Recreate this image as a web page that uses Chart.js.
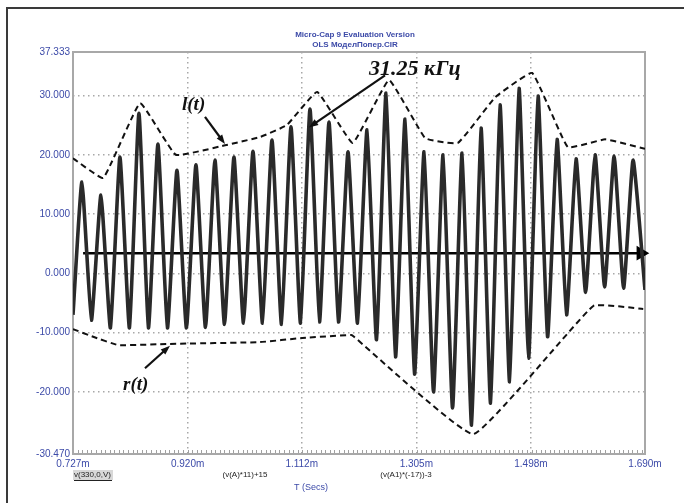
<!DOCTYPE html>
<html lang="ru">
<head>
<meta charset="UTF-8">
<title>Micro-Cap 9 - OLS</title>
<script src="https://cdn.jsdelivr.net/npm/chart.js"></script>
<style>
  body { margin: 0; background: #fff; }
  canvas { display: block; }
</style>
</head>
<body>
<canvas id="myChart" width="684" height="503"></canvas>
<script>
// axis ticks (ms on x, value on y)
const xTicks = [0.727, 0.920, 1.112, 1.305, 1.498, 1.690];
const yTicks = [-30.470, -20, -10, 0, 10, 20, 30, 37.333];

// signal: start / end samples, peaks and troughs
const tEdge = [0.727, 1.690];
const vEdge = [-7.0, -2.8];
const tPeak = [0.742, 0.774, 0.806, 0.838, 0.870, 0.902, 0.934, 0.966, 0.998, 1.030,
               1.062, 1.094, 1.126, 1.158, 1.190, 1.222, 1.254, 1.286, 1.318, 1.350,
               1.382, 1.414, 1.446, 1.478, 1.510, 1.542, 1.574, 1.606, 1.638, 1.670];
const vPeak = [15.4, 13.2, 19.6, 27.0, 21.8, 17.4, 18.3, 19.1, 19.6, 20.6,
               22.5, 24.7, 27.7, 25.5, 20.5, 24.2, 30.4, 26.0, 20.5, 20.0,
               20.3, 24.5, 28.4, 31.2, 29.9, 22.6, 19.3, 20.0, 19.8, 19.1];
const tTrough = [0.758, 0.790, 0.822, 0.854, 0.886, 0.918, 0.950, 0.982, 1.014, 1.046,
                 1.078, 1.110, 1.142, 1.174, 1.206, 1.238, 1.270, 1.302, 1.334, 1.366,
                 1.398, 1.430, 1.462, 1.494, 1.526, 1.558, 1.590, 1.622, 1.654];
const vTrough = [-7.9, -9.2, -9.2, -9.2, -9.2, -9.2, -9.1, -8.6, -8.4, -8.4,
                 -8.6, -8.4, -8.2, -8.2, -8.4, -11.2, -14.1, -17.0, -20.0, -22.7,
                 -25.6, -21.9, -18.3, -14.3, -10.7, -7.0, -3.2, -2.3, -2.5];

// upper envelope l(t)
const tUpper = [0.727, 0.778, 0.840, 0.900, 0.983, 1.042, 1.087, 1.138, 1.198,
                1.259, 1.320, 1.375, 1.438, 1.500, 1.560, 1.623, 1.690];
const vUpper = [19.4, 16.1, 28.7, 20.0, 21.6, 23.0, 25.0, 30.6, 22.0,
                32.6, 22.8, 22.0, 29.7, 33.8, 21.3, 22.6, 21.0];

// lower envelope r(t)
const tLower = [0.727, 0.761, 0.803, 0.890, 1.042, 1.113, 1.195, 1.199, 1.401, 1.603, 1.687];
const vLower = [-9.4, -10.7, -12.1, -11.9, -11.6, -10.9, -10.4, -10.6, -27.1, -5.5, -6.0];

// horizontal time arrow
const tArrow = [0.744, 1.683];
const vArrow = [3.4, 3.4];

// text annotations: label, x, y (data units) and arrow from/to
const notes = [
  { text: '31.25 кГц', x: 1.2253, y: 34.4, from: [1.2523, 33.4], to: [1.124, 24.6], size: 22 },
  { text: 'l(t)', x: 0.9105, y: 28.4, from: [0.9492, 26.4], to: [0.9829, 21.8], size: 19 },
  { text: 'r(t)', x: 0.8112, y: -18.8, from: [0.8482, -16.0], to: [0.8903, -12.2], size: 19 }
];

const blue = '#3c4aa8';
const gridColor = '#a8a8a8';

function pts(ts, vs) { return ts.map((t, i) => ({ x: t, y: vs[i] })); }

const signal = pts(tEdge, vEdge).concat(pts(tPeak, vPeak), pts(tTrough, vTrough))
  .sort((a, b) => a.x - b.x);

const decorPlugin = {
  id: 'decor',
  beforeDraw(chart) {
    const ctx = chart.ctx;
    ctx.save();
    ctx.fillStyle = '#fff';
    ctx.fillRect(0, 0, chart.width, chart.height);
    // outer frame (top and left visible)
    ctx.strokeStyle = '#3a3a3a';
    ctx.lineWidth = 2;
    ctx.beginPath();
    ctx.moveTo(7, chart.height);
    ctx.lineTo(7, 8);
    ctx.lineTo(chart.width, 8);
    ctx.stroke();
    // titles
    const a = chart.chartArea;
    const cx = (a.left + a.right) / 2 - 4;
    ctx.fillStyle = blue;
    ctx.textAlign = 'center';
    ctx.textBaseline = 'middle';
    ctx.font = 'bold 8px "Liberation Sans", Arial, sans-serif';
    ctx.fillText('Micro-Cap 9 Evaluation Version', cx, 35);
    ctx.fillText('OLS МоделПопер.CIR', cx, 45);
    ctx.restore();
  },
  beforeDatasetsDraw(chart) {
    const ctx = chart.ctx;
    const a = chart.chartArea;
    const xs = chart.scales.x;
    ctx.save();
    // minor ticks along the bottom
    ctx.strokeStyle = '#a0a0a0';
    ctx.lineWidth = 1;
    const step = (xTicks[1] - xTicks[0]) / 25;
    for (let t = xTicks[0]; t <= xTicks[xTicks.length - 1] + 1e-9; t += step) {
      const px = Math.round(xs.getPixelForValue(t)) + 0.5;
      ctx.beginPath();
      ctx.moveTo(px, a.bottom);
      ctx.lineTo(px, a.bottom - 4);
      ctx.stroke();
    }
    // plot border
    ctx.strokeStyle = '#a8a8a8';
    ctx.lineWidth = 2;
    ctx.strokeRect(a.left, a.top, a.right - a.left, a.bottom - a.top);
    ctx.restore();
  },
  afterDraw(chart) {
    const ctx = chart.ctx;
    const xs = chart.scales.x, ys = chart.scales.y;
    ctx.save();
    // bottom labels
    ctx.textBaseline = 'middle';
    ctx.font = '8px "Liberation Sans", Arial, sans-serif';
    ctx.fillStyle = '#d8d8d8';
    ctx.fillRect(73, 470, 40, 10);
    ctx.fillStyle = '#222';
    ctx.textAlign = 'left';
    ctx.fillText('v(330,0,V)', 74, 475);
    ctx.strokeStyle = '#222';
    ctx.lineWidth = 1;
    ctx.beginPath(); ctx.moveTo(74, 480.5); ctx.lineTo(112, 480.5); ctx.stroke();
    ctx.textAlign = 'center';
    ctx.fillText('(v(A)*11)+15', 245, 475);
    ctx.fillText('(v(A1)*(-17))-3', 406, 475);
    ctx.fillStyle = blue;
    ctx.font = '9px "Liberation Sans", Arial, sans-serif';
    ctx.fillText('T (Secs)', 311, 488);

    // annotations
    notes.forEach(n => {
      ctx.fillStyle = '#111';
      ctx.strokeStyle = '#111';
      ctx.font = 'bold italic ' + n.size + 'px "Liberation Serif", "DejaVu Serif", serif';
      ctx.textAlign = 'left';
      ctx.textBaseline = 'middle';
      ctx.fillText(n.text, xs.getPixelForValue(n.x), ys.getPixelForValue(n.y));
      const x1 = xs.getPixelForValue(n.from[0]), y1 = ys.getPixelForValue(n.from[1]);
      const x2 = xs.getPixelForValue(n.to[0]), y2 = ys.getPixelForValue(n.to[1]);
      const ang = Math.atan2(y2 - y1, x2 - x1);
      ctx.lineWidth = 2.2;
      ctx.beginPath();
      ctx.moveTo(x1, y1);
      ctx.lineTo(x2 - 6 * Math.cos(ang), y2 - 6 * Math.sin(ang));
      ctx.stroke();
      ctx.beginPath();
      ctx.moveTo(x2, y2);
      ctx.lineTo(x2 - 10 * Math.cos(ang - 0.35), y2 - 10 * Math.sin(ang - 0.35));
      ctx.lineTo(x2 - 10 * Math.cos(ang + 0.35), y2 - 10 * Math.sin(ang + 0.35));
      ctx.closePath();
      ctx.fill();
    });
    ctx.restore();
  }
};

function edgeColor(ticks) {
  return ctx => (ctx.index === 0 || ctx.index === ticks.length - 1) ? 'rgba(0,0,0,0)' : gridColor;
}

const config = {
  type: 'line',
  data: {
    datasets: [
      {
        data: pts(tUpper, vUpper),
        borderColor: '#111', borderWidth: 2, borderDash: [6, 4],
        pointRadius: 0, tension: 0.1, fill: false
      },
      {
        data: pts(tLower, vLower),
        borderColor: '#111', borderWidth: 2, borderDash: [6, 4],
        pointRadius: 0, tension: 0.1, fill: false
      },
      {
        data: signal,
        borderColor: '#2a2a2a', borderWidth: 3.6,
        pointRadius: 0, tension: 0.15, fill: false
      },
      {
        data: signal,
        borderColor: '#a6a6a6', borderWidth: 2,
        pointRadius: 0, tension: 0.15, fill: false
      },
      {
        data: pts(tArrow, vArrow),
        borderColor: '#000', borderWidth: 2.5,
        pointRadius: [0, 6], pointStyle: 'triangle', rotation: 90,
        pointBackgroundColor: '#000', pointBorderColor: '#000',
        fill: false, clip: false
      }
    ]
  },
  options: {
    responsive: false,
    animation: false,
    events: [],
    layout: { padding: { left: 0, top: 52, right: 39, bottom: 0 } },
    plugins: { legend: { display: false }, tooltip: { enabled: false }, title: { display: false } },
    scales: {
      x: {
        type: 'linear',
        min: xTicks[0], max: xTicks[xTicks.length - 1],
        afterBuildTicks: s => { s.ticks = xTicks.map(v => ({ value: v })); },
        afterFit: s => { s.height = 49; },
        ticks: {
          color: blue, padding: 4, maxRotation: 0, autoSkip: false,
          font: { family: '"Liberation Sans", Arial, sans-serif', size: 10 },
          callback: v => v.toFixed(3) + 'm'
        },
        grid: { color: edgeColor(xTicks), lineWidth: 1.5, drawTicks: false },
        border: { display: false, dash: [1.5, 3.5] }
      },
      y: {
        type: 'linear',
        min: yTicks[0], max: yTicks[yTicks.length - 1],
        afterBuildTicks: s => { s.ticks = yTicks.map(v => ({ value: v })); },
        afterFit: s => { s.width = 73; },
        ticks: {
          color: blue, padding: 3, autoSkip: false,
          font: { family: '"Liberation Sans", Arial, sans-serif', size: 10 },
          callback: v => v.toFixed(3)
        },
        grid: { color: edgeColor(yTicks), lineWidth: 1.5, drawTicks: false },
        border: { display: false, dash: [1.5, 3.5] }
      }
    }
  },
  plugins: [decorPlugin]
};

new Chart(document.getElementById('myChart').getContext('2d'), config);
</script>
</body>
</html>
